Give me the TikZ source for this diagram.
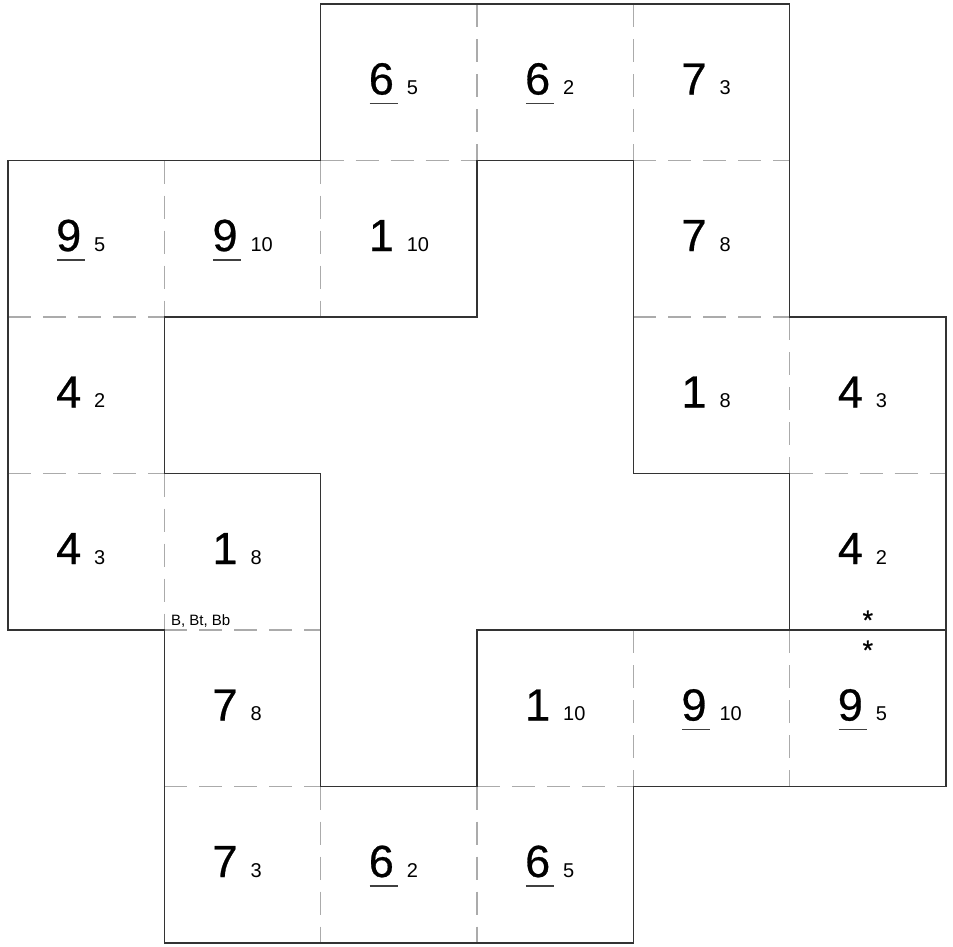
\documentclass[tikz,border=0pt]{standalone}
\usepackage{fontspec}
\setmainfont{Liberation Sans}
\newfontfamily\digfont[FakeBold=0.6]{Liberation Sans}
\newcommand\cellnum[5]{%
  \node[dig, xshift=48pt, yshift=-90.5pt] (d#1#2) at (#1,#2) {#3};
  \node[subn, xshift=86pt, yshift=-90.5pt] (s#1#2) at (#1,#2) {#4};
  \ifnum#5=1 \draw[ul] ([shift={(1pt,-9pt)}]d#1#2.base west) -- ++(28pt,0pt);\fi}
\begin{document}
\begin{tikzpicture}[x=156.33pt,y=-156.5pt,
  inner/.style={draw=black!33, line width=1.3pt, dash pattern=on 23pt off 12pt},
  outline/.style={draw=black!80, line width=1.4pt, line join=miter},
  dig/.style={font=\digfont\fontsize{45}{45}\selectfont, inner sep=0pt, anchor=base west},
  subn/.style={font=\fontsize{20}{20}\selectfont, inner sep=0pt, anchor=base west},
  ul/.style={draw=black!75, line width=1.2pt},
  starn/.style={font=\digfont\fontsize{27}{27}\selectfont, inner sep=0pt},
  note/.style={font=\fontsize{15}{15}\selectfont, inner sep=0pt, anchor=base west}]
\useasboundingbox (-0.05117,-0.02556) rectangle (6.0449,6.0192);
% internal dashed edges
\foreach \a/\b in {{(0,2)}/{(1,2)},{(0,3)}/{(1,3)},{(1,4)}/{(2,4)},{(1,5)}/{(2,5)},{(2,1)}/{(3,1)},{(3,5)}/{(4,5)},{(4,1)}/{(5,1)},{(4,2)}/{(5,2)},{(5,3)}/{(6,3)},
  {(3,0)}/{(3,1)},{(4,0)}/{(4,1)},{(1,1)}/{(1,2)},{(2,1)}/{(2,2)},{(5,2)}/{(5,3)},{(1,3)}/{(1,4)},{(4,4)}/{(4,5)},{(5,4)}/{(5,5)},{(2,5)}/{(2,6)},{(3,5)}/{(3,6)}}
  \draw[inner] \a -- \b;
% outlines
\draw[outline] (2,0) -- (5,0) -- (5,2) -- (6,2) -- (6,5) -- (4,5) -- (4,6) -- (1,6) -- (1,4) -- (0,4) -- (0,1) -- (2,1) -- cycle;
\draw[outline] (3,1) -- (4,1) -- (4,3) -- (5,3) -- (5,4) -- (3,4) -- (3,5) -- (2,5) -- (2,3) -- (1,3) -- (1,2) -- (3,2) -- cycle;
\draw[outline] (5,4) -- (6,4);
% cells
\cellnum{2}{0}{6}{5}{1}
\cellnum{3}{0}{6}{2}{1}
\cellnum{4}{0}{7}{3}{0}
\cellnum{0}{1}{9}{5}{1}
\cellnum{1}{1}{9}{10}{1}
\cellnum{2}{1}{1}{10}{0}
\cellnum{4}{1}{7}{8}{0}
\cellnum{0}{2}{4}{2}{0}
\cellnum{4}{2}{1}{8}{0}
\cellnum{5}{2}{4}{3}{0}
\cellnum{0}{3}{4}{3}{0}
\cellnum{1}{3}{1}{8}{0}
\cellnum{5}{3}{4}{2}{0}
\cellnum{1}{4}{7}{8}{0}
\cellnum{3}{4}{1}{10}{0}
\cellnum{4}{4}{9}{10}{1}
\cellnum{5}{4}{9}{5}{1}
\cellnum{1}{5}{7}{3}{0}
\cellnum{2}{5}{6}{2}{1}
\cellnum{3}{5}{6}{5}{1}
% marks
\node[starn, yshift=10pt] (st1) at (5.5,4) {*};
\node[starn, yshift=-20pt] (st2) at (5.5,4) {*};
\node[note, xshift=6.5pt, yshift=5pt] (nb) at (1,4) {B, Bt, Bb};
\end{tikzpicture}
\end{document}
